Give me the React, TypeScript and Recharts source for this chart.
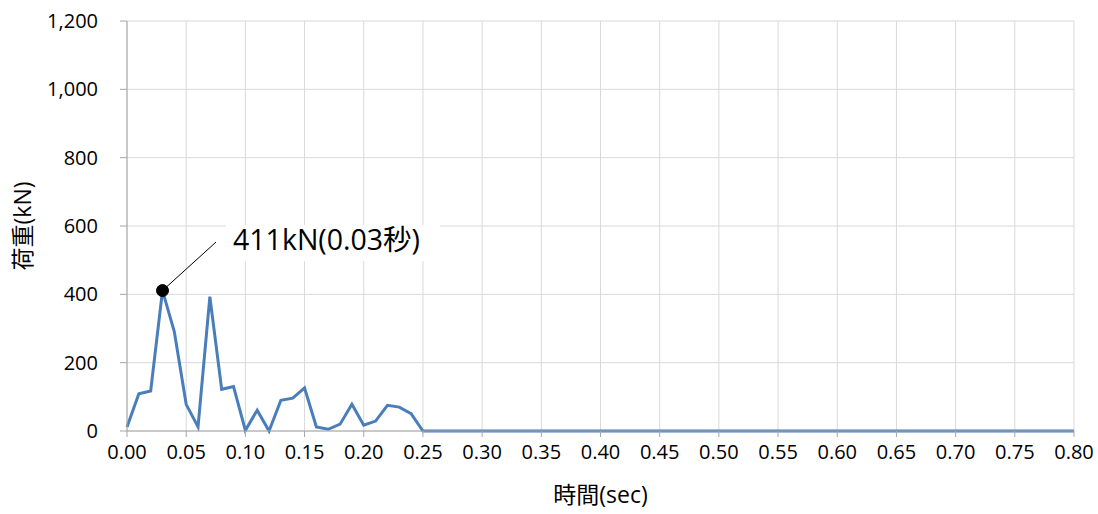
import React from "react";
import { LineChart, Line, XAxis, YAxis, CartesianGrid, ReferenceDot, ReferenceLine } from "recharts";

const times: number[] = Array.from({ length: 81 }, (_, i) => Math.round(i) / 100);
const loadsHead: number[] = [12, 109, 117, 411, 290, 78, 12, 393, 122, 130, 2, 61, 0, 90, 96, 126, 12, 5, 20, 78, 17, 29, 75, 70, 51, 0];
const loads: number[] = times.map((_, i) => (i < loadsHead.length ? loadsHead[i] : 0));
const xTicks: number[] = [0, 0.05, 0.1, 0.15, 0.2, 0.25, 0.3, 0.35, 0.4, 0.45, 0.5, 0.55, 0.6, 0.65, 0.7, 0.75, 0.8];
const yTicks: number[] = [0, 200, 400, 600, 800, 1000, 1200];
const peakTime = 0.03;
const peakLoad = 411;
const labelAnchor = { t: 0.0752, v: 553 };
const peakText = "411kN(0.03秒)";

const data = times.map((t, i) => ({ t, v: loads[i] }));

const font = "'Open Sans', 'Noto Sans CJK JP', sans-serif";

const PeakLabel = (props: any) => {
  const vb = props.viewBox || {};
  const x = vb.x ?? 0;
  const y = vb.y ?? 0;
  return (
    <g>
      <rect x={x + 10} y={y - 17} width={214} height={36} fill="#fff" />
      <text x={x + 17} y={y + 8} fontSize={28.5} fontFamily={font} fill="#000">
        {peakText}
      </text>
    </g>
  );
};

export default function App() {
  return (
    <div style={{ position: "absolute", left: 0, top: 0, width: 1098, height: 514, background: "#fff" }}>
      <LineChart width={1098} height={514} data={data} margin={{ top: 21, right: 24, bottom: 0, left: 0 }}>
        <CartesianGrid stroke="#d9d9d9" strokeWidth={1} />
        <XAxis
          dataKey="t"
          type="number"
          domain={[0, 0.8]}
          ticks={xTicks}
          interval={0}
          tickFormatter={(v: number) => v.toFixed(2)}
          height={83}
          stroke="#a6a6a6"
          tickLine={{ stroke: "#a6a6a6" }}
          tickSize={6}
          tickMargin={8}
          tick={{ fill: "#000", fontSize: 20, fontFamily: font }}
          label={{ value: "時間(sec)", position: "insideBottom", offset: 11, fill: "#000", fontSize: 23, fontFamily: font }}
        />
        <YAxis
          type="number"
          domain={[0, 1200]}
          ticks={yTicks}
          interval={0}
          tickFormatter={(v: number) => v.toLocaleString("en-US")}
          width={127}
          stroke="#a6a6a6"
          tickLine={{ stroke: "#a6a6a6" }}
          tickSize={7}
          tickMargin={22}
          tick={{ fill: "#000", fontSize: 20, fontFamily: font }}
          label={{ value: "荷重(kN)", angle: -90, position: "insideLeft", offset: 23, fill: "#000", fontSize: 23, fontFamily: font, style: { textAnchor: "middle" } }}
        />
        <Line type="linear" dataKey="v" stroke="#4a7ebb" strokeWidth={3} dot={false} isAnimationActive={false} />
        <ReferenceLine
          segment={[{ x: peakTime, y: peakLoad }, { x: labelAnchor.t, y: labelAnchor.v }]}
          stroke="#000"
          strokeWidth={1}
        />
        <ReferenceDot x={labelAnchor.t} y={labelAnchor.v} r={0} fill="none" stroke="none" label={<PeakLabel />} />
        <ReferenceDot x={peakTime} y={peakLoad} r={6} fill="#000" stroke="#000" />
      </LineChart>
    </div>
  );
}
